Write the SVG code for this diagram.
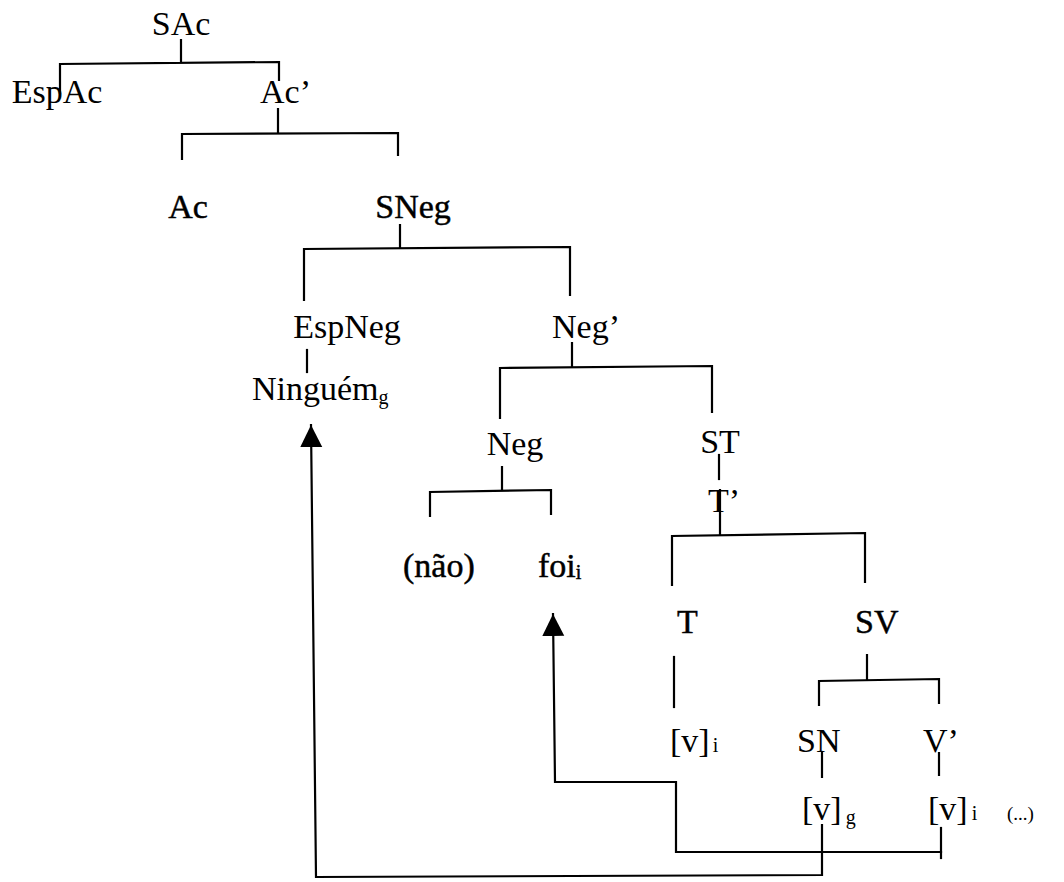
<svg xmlns="http://www.w3.org/2000/svg" width="1064" height="882" viewBox="0 0 1064 882">
<style>
text{font-family:"Liberation Serif","Times New Roman",serif;font-size:34px;fill:#000}
.b{stroke:#000;stroke-width:0.45}
.sub{font-size:20px}
.small{font-size:19px}
.ln{stroke:#000;stroke-width:2.2;fill:none;stroke-linecap:square}
</style>
<defs>
<marker id="ah" markerUnits="userSpaceOnUse" markerWidth="24" markerHeight="24" refX="22" refY="11" orient="auto">
<path d="M0,0 L22,11 L0,22 z" fill="#000"/>
</marker>
</defs>
<rect width="1064" height="882" fill="#fff"/>
<g id="connectors" class="ln">
<path class="ln" d="M181,40 V62 M60,93 V64 L279,62 V80"/>
<path class="ln" d="M278,109 V133 M182,159 V134 L398,133 V155"/>
<path class="ln" d="M400,225 V248 M304,300 V249 L570,247 V295"/>
<path class="ln" d="M307,350 V372"/>
<path class="ln" d="M572,343 V367 M500,418 V368 L712,366 V412"/>
<path class="ln" d="M502,467 V491 M430,516 V492 L551,490 V514"/>
<path class="ln" d="M719,455 V479"/>
<path class="ln" d="M720,490 V535 M672,585 V536 L865,533 V582"/>
<path class="ln" d="M867,655 V680 M819,705 V681 L939,679 V703"/>
<path class="ln" d="M674,657 V707"/>
<path class="ln" d="M822,753 V777 M939,753 V775"/>
<path class="ln" d="M941,828 V858"/>
<path class="ln" d="M822,825 V875 L316,877 L311,425" marker-end="url(#ah)"/>
<path class="ln" d="M941,852 L676,852 V782 L555,782 L553,614" marker-end="url(#ah)"/>
</g>
<g id="n-SAc"><text x="181" y="35" text-anchor="middle">SAc</text></g>
<g id="n-EspAc"><text x="57" y="103" text-anchor="middle">EspAc</text></g>
<g id="n-Acbar"><text x="260" y="103">Ac’</text></g>
<g id="n-Ac"><text class="b" x="188" y="218" text-anchor="middle">Ac</text></g>
<g id="n-SNeg"><text class="b" x="413" y="218" text-anchor="middle">SNeg</text></g>
<g id="n-EspNeg"><text x="347" y="338" text-anchor="middle">EspNeg</text></g>
<g id="n-Negbar"><text x="552" y="338">Neg’</text></g>
<g id="n-Ninguem"><text x="252" y="400">Ninguém<tspan class="sub" dy="4">g</tspan></text></g>
<g id="n-Neg"><text x="515" y="455" text-anchor="middle">Neg</text></g>
<g id="n-ST"><text x="720" y="453" text-anchor="middle">ST</text></g>
<g id="n-Tbar"><text x="708" y="512">T’</text></g>
<g id="n-nao"><text class="b" x="403" y="577">(não)</text></g>
<g id="n-foi"><text class="b" x="538" y="577">foi<tspan class="sub" dy="2">i</tspan></text></g>
<g id="n-T"><text class="b" x="677" y="633">T</text></g>
<g id="n-SV"><text class="b" x="855" y="633">SV</text></g>
<g id="n-vi1"><text x="670" y="752">[v]<tspan class="sub" dx="3">i</tspan></text></g>
<g id="n-SN"><text x="797" y="752">SN</text></g>
<g id="n-Vbar"><text x="923" y="752">V’</text></g>
<g id="n-vg"><text x="802" y="820">[v]<tspan class="sub" dx="4" dy="4">g</tspan></text></g>
<g id="n-vi2"><text x="928" y="820">[v]<tspan class="sub" dx="4">i</tspan></text></g>
<g id="n-etc"><text class="small" x="1007" y="820">(...)</text></g>
</svg>
